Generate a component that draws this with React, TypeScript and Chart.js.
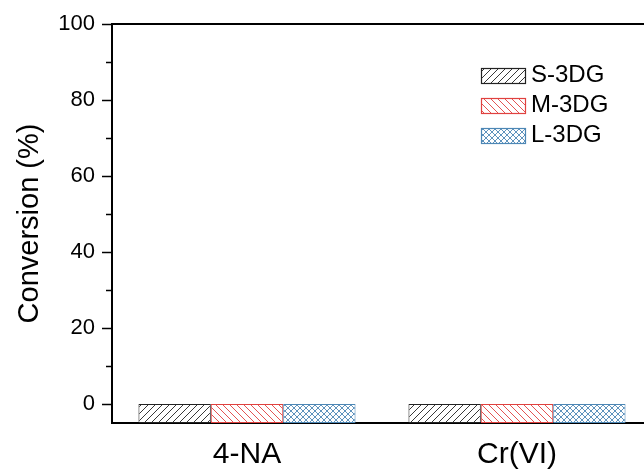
import React, { useEffect, useRef } from 'react';
import { Chart, registerables } from 'chart.js';

Chart.register(...registerables);

const categories = ['4-NA', 'Cr(VI)'];
const seriesNames = ['S-3DG', 'M-3DG', 'L-3DG'];
const sValues = [0, 0];
const mValues = [0, 0];
const lValues = [0, 0];
const majorTicks = [0, 20, 40, 60, 80, 100];
const minorTicks = [10, 30, 50, 70, 90];
const yMin = -5;
const yMax = 100;

const FONT = "'Liberation Sans', Arial, sans-serif";
const BLACK = '#222222';
const RED = '#e0413f';
const BLUE = '#4d87b5';

function makePattern(ctx: CanvasRenderingContext2D, kind: string, color: string) {
  const s = kind === 'cross' ? 6 : 7;
  const c = document.createElement('canvas');
  c.width = s;
  c.height = s;
  const g = c.getContext('2d') as CanvasRenderingContext2D;
  g.fillStyle = '#ffffff';
  g.fillRect(0, 0, s, s);
  g.strokeStyle = color;
  g.lineWidth = 0.9;
  const fwd = () => {
    g.beginPath();
    g.moveTo(-1, s + 1); g.lineTo(s + 1, -1);
    g.moveTo(-1, 1); g.lineTo(1, -1);
    g.moveTo(s - 1, s + 1); g.lineTo(s + 1, s - 1);
    g.stroke();
  };
  const back = () => {
    g.beginPath();
    g.moveTo(-1, -1); g.lineTo(s + 1, s + 1);
    g.moveTo(s - 1, -1); g.lineTo(s + 1, 1);
    g.moveTo(-1, s - 1); g.lineTo(1, s + 1);
    g.stroke();
  };
  if (kind === 'fwd') fwd();
  else if (kind === 'back') back();
  else { fwd(); back(); }
  return ctx.createPattern(c, 'repeat') as CanvasPattern;
}

const frameAndLegend = {
  id: 'frameAndLegend',
  afterDraw(chart: any) {
    const { ctx, chartArea } = chart;
    const y = chart.scales.y;
    ctx.save();
    // top frame line
    ctx.strokeStyle = '#000';
    ctx.lineWidth = 2;
    ctx.beginPath();
    ctx.moveTo(chartArea.left - 1, chartArea.top);
    ctx.lineTo(chartArea.right + 2, chartArea.top);
    ctx.stroke();
    // minor ticks
    ctx.lineWidth = 1.5;
    minorTicks.forEach((v) => {
      const py = Math.round(y.getPixelForValue(v)) + 0.5;
      ctx.beginPath();
      ctx.moveTo(chartArea.left - 6, py);
      ctx.lineTo(chartArea.left, py);
      ctx.stroke();
    });
    // legend
    const bx = chartArea.left + 369;
    const by = chartArea.top + 44;
    const bw = 44;
    const bh = 15;
    const gap = 30;
    ctx.font = `24px ${FONT}`;
    ctx.textBaseline = 'middle';
    ctx.textAlign = 'left';
    chart.data.datasets.forEach((ds: any, i: number) => {
      const yy = by + i * gap;
      ctx.fillStyle = ds.backgroundColor;
      ctx.fillRect(bx, yy, bw, bh);
      ctx.strokeStyle = ds.borderColor;
      ctx.lineWidth = 1.2;
      ctx.strokeRect(bx + 0.5, yy + 0.5, bw, bh);
      ctx.fillStyle = '#000';
      ctx.fillText(ds.label, bx + bw + 6, yy + bh / 2);
    });
    ctx.restore();
  },
};

export default function App() {
  const ref = useRef<HTMLCanvasElement | null>(null);
  useEffect(() => {
    document.body.style.margin = '0';
    document.body.style.overflow = 'hidden';
    const canvas = ref.current as HTMLCanvasElement;
    const ctx = canvas.getContext('2d') as CanvasRenderingContext2D;
    const pats = [
      makePattern(ctx, 'fwd', BLACK),
      makePattern(ctx, 'back', RED),
      makePattern(ctx, 'cross', BLUE),
    ];
    const borders = [BLACK, RED, BLUE];
    const values = [sValues, mValues, lValues];
    const chart = new Chart(canvas, {
      type: 'bar',
      data: {
        labels: categories,
        datasets: seriesNames.map((name, i) => ({
          label: name,
          data: values[i],
          base: yMin,
          backgroundColor: pats[i],
          borderColor: borders[i],
          borderWidth: 1,
          borderSkipped: false,
          barPercentage: 1,
          categoryPercentage: 0.804,
        })),
      },
      options: {
        responsive: false,
        animation: false,
        layout: { padding: { top: 24, right: 0, left: 0, bottom: 0 } },
        plugins: { legend: { display: false }, tooltip: { enabled: false } },
        scales: {
          x: {
            offset: true,
            grid: { display: false },
            border: { display: true, color: '#000', width: 2 },
            ticks: { color: '#000', font: { family: FONT, size: 30 }, padding: 6, maxRotation: 0 },
            afterFit: (s: any) => { s.height = 46; },
          },
          y: {
            min: yMin,
            max: yMax,
            ticks: { stepSize: 20, color: '#000', font: { family: FONT, size: 22 }, padding: 7 },
            afterBuildTicks: (s: any) => {
              s.ticks = majorTicks.map((v) => ({ value: v }));
            },
            grid: { drawOnChartArea: false, drawTicks: true, tickLength: 10, tickColor: '#000', tickWidth: 1.5 },
            border: { display: true, color: '#000', width: 2 },
            title: {
              display: true,
              text: 'Conversion (%)',
              color: '#000',
              font: { family: FONT, size: 29 },
              padding: { top: 13, bottom: 0 },
            },
            afterFit: (s: any) => { s.width = 112; },
          },
        },
      },
      plugins: [frameAndLegend],
    } as any);
    return () => chart.destroy();
  }, []);
  return (
    <div style={{ position: 'fixed', left: 0, top: 0, width: 644, height: 469, overflow: 'hidden', background: '#fff' }}>
      <canvas ref={ref} width={652} height={469} style={{ display: 'block' }} />
    </div>
  );
}
